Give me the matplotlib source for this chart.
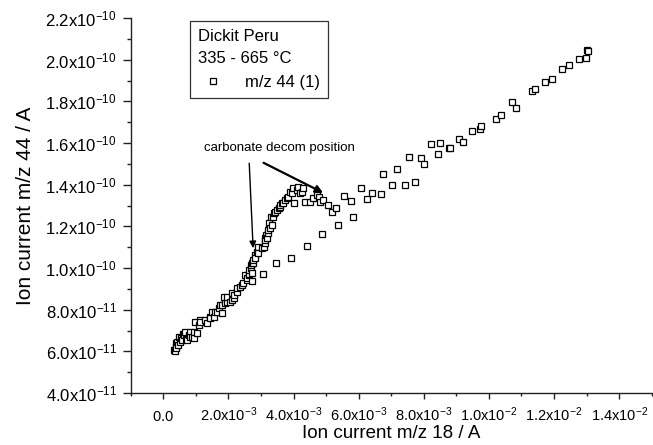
import matplotlib
matplotlib.use("Agg")
import matplotlib.pyplot as plt
import numpy as np

plt.rcParams['font.family'] = ['Liberation Sans', 'DejaVu Sans']
plt.rcParams['mathtext.fontset'] = 'custom'
plt.rcParams['mathtext.rm'] = 'Liberation Sans'
plt.rcParams['mathtext.it'] = 'Liberation Sans:italic'
plt.rcParams['mathtext.bf'] = 'Liberation Sans:bold'
plt.rcParams['mathtext.default'] = 'regular'

# ---- data (x in units of 1e-3 A, y in units of 1e-11 A) ----
X_UNIT = 1e-3
Y_UNIT = 1e-11
mz18_e3 = [0.32, 0.35, 0.38, 0.38, 0.40, 0.43, 0.45, 0.48, 0.50, 0.53, 0.58, 0.60, 0.63,
           0.68, 0.70, 0.73, 0.78, 0.83, 0.83, 0.89, 0.93, 0.95, 1.04, 0.99, 1.09, 1.14,
           1.14, 1.29, 1.35, 1.45, 1.45, 1.50, 1.55, 1.60, 1.65, 1.70, 1.80, 1.75, 1.80,
           1.91, 1.85, 1.96, 1.96, 2.06, 2.11, 2.11, 2.16, 2.16, 2.26, 2.26, 2.36, 2.42,
           2.46, 2.52, 2.57, 2.57, 2.62, 2.62, 2.62, 2.69, 2.69, 2.72, 2.74, 2.72, 2.75,
           2.77, 2.82, 2.82, 2.87, 2.92, 2.92, 3.03, 3.08, 3.11, 3.13, 3.13, 3.16, 3.18,
           3.21, 3.23, 3.26, 3.28, 3.33, 3.31, 3.36, 3.41, 3.43, 3.49, 3.54, 3.57, 3.59,
           3.64, 3.69, 3.74, 3.79, 3.84, 3.89, 3.94, 3.99, 4.02, 4.10, 4.15, 4.20, 4.25,
           4.28, 4.35, 4.50, 4.61, 4.71, 4.79, 4.81, 4.91, 5.05, 5.17, 5.30, 5.37, 5.55,
           5.76, 5.83, 6.06, 6.27, 6.41, 6.68, 6.75, 7.02, 7.19, 7.43, 7.56, 7.74, 7.90,
           8.00, 8.21, 8.43, 8.51, 8.76, 8.81, 9.07, 9.22, 9.47, 9.73, 9.77, 10.21, 10.37,
           10.72, 10.83, 11.33, 11.42, 11.72, 11.94, 12.23, 12.46, 12.78, 12.97, 13.02,
           13.05,
           3.06, 3.47, 3.92, 4.40, 4.86]
mz44_e11 = [6.06, 6.03, 6.22, 6.38, 6.15, 6.46, 6.30, 6.70, 6.45, 6.62, 6.55, 6.85, 6.78,
            6.94, 6.60, 6.54, 6.80, 6.94, 6.70, 6.70, 6.95, 6.62, 6.86, 7.42, 7.26, 7.50,
            7.42, 7.50, 7.34, 7.66, 7.58, 7.90, 7.66, 7.90, 7.90, 8.06, 7.85, 8.22, 8.22,
            8.30, 8.62, 8.38, 8.59, 8.38, 8.46, 8.78, 8.54, 8.70, 8.86, 9.02, 9.10, 9.18,
            9.26, 9.66, 9.42, 9.50, 9.66, 9.71, 9.90, 9.98, 10.14, 9.74, 9.37, 10.22, 10.22,
            10.38, 10.62, 10.46, 10.78, 11.02, 10.70, 10.94, 11.02, 11.18, 11.42, 11.34,
            11.58, 11.42, 11.66, 11.82, 12.14, 11.90, 12.06, 12.46, 12.46, 12.62, 12.70,
            12.78, 12.86, 12.94, 13.02, 13.10, 13.10, 13.26, 13.34, 13.42, 13.65, 13.58,
            13.82, 13.10, 13.74, 13.90, 13.58, 13.65, 13.82, 13.18, 13.18, 13.34, 13.50,
            13.42, 13.18, 13.26, 13.02, 12.70, 12.86, 12.06, 13.45, 13.22, 12.43, 13.82,
            13.29, 13.61, 13.54, 14.50, 13.98, 14.76, 13.98, 15.32, 14.11, 15.26, 14.98,
            15.94, 15.46, 16.00, 15.78, 15.74, 16.17, 16.05, 16.58, 16.65, 16.81, 17.14,
            17.33, 17.97, 17.70, 18.48, 18.61, 18.93, 19.05, 19.57, 19.73, 20.03, 20.10,
            20.48, 20.42,
            9.69, 10.25, 10.46, 11.05, 11.63]

x_ticks = [0.0, 2e-3, 4e-3, 6e-3, 8e-3, 1.0e-2, 1.2e-2, 1.4e-2]
x_ticklabels = [r'$0.0$', r'2.0x10$^{-3}$', r'4.0x10$^{-3}$', r'6.0x10$^{-3}$', r'8.0x10$^{-3}$',
                r'1.0x10$^{-2}$', r'1.2x10$^{-2}$', r'1.4x10$^{-2}$']
y_ticks = [4e-11, 6e-11, 8e-11, 1.0e-10, 1.2e-10, 1.4e-10, 1.6e-10, 1.8e-10, 2.0e-10, 2.2e-10]
y_ticklabels = [r'4.0x10$^{-11}$', r'6.0x10$^{-11}$', r'8.0x10$^{-11}$', r'1.0x10$^{-10}$',
                r'1.2x10$^{-10}$', r'1.4x10$^{-10}$', r'1.6x10$^{-10}$', r'1.8x10$^{-10}$',
                r'2.0x10$^{-10}$', r'2.2x10$^{-10}$']
x_minor = [-1e-3, 1e-3, 3e-3, 5e-3, 7e-3, 9e-3, 1.1e-2, 1.3e-2, 1.5e-2]
y_minor = [5e-11, 7e-11, 9e-11, 1.1e-10, 1.3e-10, 1.5e-10, 1.7e-10, 1.9e-10, 2.1e-10]

x = np.array(mz18_e3) * X_UNIT
y = np.array(mz44_e11) * Y_UNIT

fig = plt.figure(figsize=(6.53, 4.45), dpi=100)
ax = fig.add_axes([130.7 / 653, 52 / 445, 521 / 653, 375 / 445])

line, = ax.plot(x, y, linestyle='none', marker='s', markersize=3.8,
                markerfacecolor='white', markeredgecolor='black', markeredgewidth=0.9,
                label='m/z 44 (1)')

ax.set_xlim(-1e-3, 1.5e-2)
ax.set_ylim(4e-11, 2.2e-10)
ax.set_xticks(x_ticks)
ax.set_xticklabels(x_ticklabels)
ax.set_yticks(y_ticks)
ax.set_yticklabels(y_ticklabels)
ax.set_xticks(x_minor, minor=True)
ax.set_yticks(y_minor, minor=True)

for s in ['top', 'right']:
    ax.spines[s].set_visible(False)
for s in ['left', 'bottom']:
    ax.spines[s].set_linewidth(1.0)
    ax.spines[s].set_color('#222222')

ax.tick_params(axis='y', which='major', direction='out', length=6, width=1.0,
               labelsize=12, pad=4, color='#222222')
ax.tick_params(axis='y', which='minor', direction='out', length=3, width=1.0, color='#222222')
ax.tick_params(axis='x', which='major', direction='out', length=4, width=1.0,
               labelsize=10.5, pad=16, color='#222222')
ax.tick_params(axis='x', which='minor', direction='out', length=2.5, width=1.0, color='#222222')
for lab in ax.get_xticklabels():
    lab.set_verticalalignment('baseline')

ax.set_xlabel('Ion current m/z 18 / A', fontsize=13.5)
ax.set_ylabel('Ion current m/z 44 / A', fontsize=15)
ax.xaxis.set_label_coords(0.5, -0.085)
ax.yaxis.set_label_coords(-0.183, 0.5)

leg = ax.legend(handles=[line], labels=['m/z 44 (1)'],
                title='Dickit Peru\n335 - 665 °C', alignment='left',
                loc='upper left', bbox_to_anchor=((190 - 130.7) / 521, (393 - 20.7) / 375),
                frameon=True, fancybox=False, edgecolor='#333333', framealpha=1,
                borderpad=0.5, handletextpad=1.0, handlelength=1.8,
                fontsize=12, title_fontsize=12, borderaxespad=0)
leg.get_title().set_linespacing(1.6)
leg.get_frame().set_linewidth(0.9)

ax.text(3.57e-3, 15.75e-11, 'carbonate decom position', fontsize=9.5,
        ha='center', va='center')
ax.annotate('', xy=(2.76e-3, 10.95e-11), xytext=(2.64e-3, 15.03e-11),
            arrowprops=dict(arrowstyle='-|>', color='black', lw=1.0,
                            mutation_scale=10, shrinkA=0, shrinkB=0))
ax.annotate('', xy=(4.91e-3, 13.61e-11), xytext=(3.08e-3, 15.05e-11),
            arrowprops=dict(arrowstyle='-|>', color='black', lw=1.6,
                            mutation_scale=11, shrinkA=0, shrinkB=0))

fig.savefig('out.png', dpi=100)
